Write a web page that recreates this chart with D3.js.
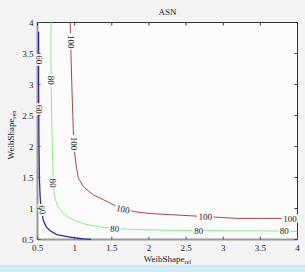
<!DOCTYPE html>
<html>
<head>
<style>
  body { margin: 0; background: #f3f3f3; }
  svg text { font-family: "Liberation Serif", "DejaVu Serif", serif; fill: #222; }
</style>
<script src="https://d3js.org/d3.v7.min.js"></script>
</head>
<body>
<svg width="305" height="272"></svg>
<script>
// contour lines: [WeibShape_ref, WeibShape_sen]
var line60 = [[0.515,3.85],[0.515,3.4],[0.515,3.0],[0.517,2.5],[0.52,2.0],[0.525,1.5],[0.535,1.2],[0.545,1.05],[0.56,0.92],[0.58,0.8],[0.62,0.7],[0.67,0.64],[0.76,0.58],[0.88,0.55],[0.96,0.535],[1.05,0.52],[1.12,0.51],[1.22,0.503]];
var line80 = [[0.68,4],[0.68,3.5],[0.685,3],[0.69,2.5],[0.7,2.0],[0.71,1.5],[0.72,1.3],[0.74,1.14],[0.78,1.02],[0.85,0.92],[0.93,0.85],[1.03,0.79],[1.15,0.745],[1.3,0.71],[1.5,0.68],[1.8,0.66],[2.2,0.65],[2.6,0.645],[3.0,0.64],[3.5,0.64],[4.0,0.63]];
var line100 = [[0.94,4],[0.95,3.5],[0.962,3],[0.975,2.5],[0.99,2.0],[1.02,1.7],[1.05,1.49],[1.12,1.35],[1.25,1.22],[1.39,1.14],[1.57,1.03],[1.8,0.95],[2.0,0.92],[2.3,0.9],[2.6,0.88],[2.9,0.86],[3.2,0.84],[3.5,0.84],[4.0,0.84]];

// label spots on each line: [x, y, angle]
var labels60 = [[0.52,3.4,90],[0.52,2.6,90],[0.565,0.98,78]];
var labels80 = [[0.68,3.07,90],[0.71,1.41,88],[1.54,0.675,3],[2.67,0.645,0],[3.82,0.64,0]];
var labels100 = [[0.95,3.69,90],[0.99,2.05,90],[1.65,0.99,12],[2.76,0.87,2],[3.9,0.84,0]];

var ticks = [0.5,1,1.5,2,2.5,3,3.5,4];
var tickLabels = ["0.5","1","1.5","2","2.5","3","3.5","4"];

var svg = d3.select("svg");
var mLeft = 37.5, mRight = 297.5, mTop = 22.5, mBottom = 239.5;
var plotBg = "#fbfbfb";

// light blue strip at the bottom
svg.append("rect").attr("x",0).attr("y",266).attr("width",305).attr("height",6).attr("fill","#d5ecf6");
svg.append("line").attr("x1",0).attr("x2",305).attr("y1",266).attr("y2",266).attr("stroke","#b5dbee");

var x = d3.scaleLinear().domain([0.5,4]).range([mLeft,mRight]);
var y = d3.scaleLinear().domain([0.5,4]).range([mBottom,mTop]);

svg.append("rect").attr("x",mLeft).attr("y",mTop).attr("width",mRight-mLeft).attr("height",mBottom-mTop).attr("fill",plotBg);

var g = svg.append("g");
var path = d3.line().x(function(d){ return x(d[0]); }).y(function(d){ return y(d[1]); });

var sets = [
  {data: line60, labels: labels60, text: "60", color: "#2b2b9c", width: 1.3},
  {data: line80, labels: labels80, text: "80", color: "#8fe88f", width: 1},
  {data: line100, labels: labels100, text: "100", color: "#a84646", width: 1}
];

sets.forEach(function(s){
  g.append("path").attr("d", path(s.data)).attr("fill","none")
    .attr("stroke", s.color).attr("stroke-width", s.width);
});

// frame
svg.append("line").attr("x1",mLeft).attr("x2",mRight).attr("y1",mTop).attr("y2",mTop).attr("stroke","#333");
svg.append("line").attr("x1",mRight).attr("x2",mRight).attr("y1",mTop).attr("y2",mBottom).attr("stroke","#333");

// inline contour labels
sets.forEach(function(s){
  s.labels.forEach(function(l){
    var lg = g.append("g").attr("transform","translate(" + x(l[0]) + "," + y(l[1]) + ") rotate(" + l[2] + ")");
    var w = s.text.length * 4.5 + 3;
    lg.append("rect").attr("x",-w/2).attr("y",-4).attr("width",w).attr("height",8).attr("fill",plotBg);
    lg.append("text").attr("text-anchor","middle").attr("dy","0.35em").style("font-size","9px").text(s.text);
  });
});

// axes
svg.append("line").attr("x1",mLeft).attr("x2",mRight).attr("y1",mBottom).attr("y2",mBottom).attr("stroke","#9a9a9a").attr("stroke-width",2);
svg.append("line").attr("x1",mLeft).attr("x2",mLeft).attr("y1",mTop).attr("y2",mBottom).attr("stroke","#9a9a9a").attr("stroke-width",2);

// blue contour runs on top of the left axis
g.raise();

ticks.forEach(function(t, i){
  svg.append("line").attr("x1",x(t)).attr("x2",x(t)).attr("y1",mBottom).attr("y2",mBottom-3).attr("stroke","#555");
  svg.append("line").attr("x1",x(t)).attr("x2",x(t)).attr("y1",mTop).attr("y2",mTop+3).attr("stroke","#333");
  svg.append("line").attr("x1",mLeft).attr("x2",mLeft+3).attr("y1",y(t)).attr("y2",y(t)).attr("stroke","#555");
  svg.append("line").attr("x1",mRight).attr("x2",mRight-3).attr("y1",y(t)).attr("y2",y(t)).attr("stroke","#333");
  svg.append("text").attr("x",x(t)).attr("y",mBottom+11).attr("text-anchor","middle").style("font-size","9px").text(tickLabels[i]);
  svg.append("text").attr("x",mLeft-4).attr("y",y(t)).attr("dy","0.35em").attr("text-anchor","end").style("font-size","9px").text(tickLabels[i]);
});

// title and axis titles
svg.append("text").attr("x",(mLeft+mRight)/2).attr("y",15).attr("text-anchor","middle").style("font-size","9px").text("ASN");

var xl = svg.append("text").attr("x",(mLeft+mRight)/2).attr("y",262).attr("text-anchor","middle").style("font-size","9px");
xl.append("tspan").text("WeibShape");
xl.append("tspan").attr("dy",2).style("font-size","6px").text("ref");

var yl = svg.append("text").attr("transform","translate(14," + ((mTop+mBottom)/2 + 4) + ") rotate(-90)").attr("text-anchor","middle").style("font-size","9px");
yl.append("tspan").text("WeibShape");
yl.append("tspan").attr("dy",2).style("font-size","6px").text("sen");
</script>
</body>
</html>
